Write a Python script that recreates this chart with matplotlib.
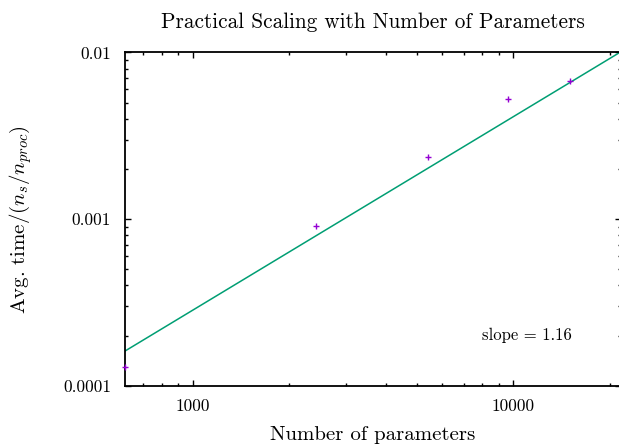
import matplotlib
matplotlib.use("Agg")
import matplotlib.pyplot as plt
import numpy as np
from matplotlib.ticker import LogLocator, FixedLocator, FixedFormatter, NullFormatter

plt.rcParams['font.family'] = 'serif'
plt.rcParams['font.serif'] = ['cmr10', 'DejaVu Serif']
plt.rcParams['mathtext.fontset'] = 'cm'
plt.rcParams['axes.unicode_minus'] = False

# measured points (number of parameters, avg time per sample)
n_params = [613, 2420, 5430, 9640, 15000]
avg_time = [1.30e-4, 9.1e-4, 2.35e-3, 5.25e-3, 6.7e-3]

# power law fit  t = a * n^b
fit_a = 9.43e-8
fit_b = 1.16

x_ticks = [1000, 10000]
x_tick_labels = ["1000", "10000"]
y_ticks = [1e-4, 1e-3, 1e-2]
y_tick_labels = ["0.0001", "0.001", "0.01"]

W, H = 619, 444
fig = plt.figure(figsize=(W / 100, H / 100), dpi=100)
left, right, top, bottom = 125, 621, 52.5, 385.7
ax = fig.add_axes([left / W, 1 - bottom / H, (right - left) / W, (bottom - top) / H])

ax.set_xscale('log')
ax.set_yscale('log')
xmin, xmax = 613, 21700
ax.set_xlim(xmin, xmax)
ax.set_ylim(1e-4, 1e-2)

xs = np.array([xmin, xmax])
ax.plot(xs, fit_a * xs ** fit_b, color='#009E73', lw=1.1, zorder=2)
ax.plot(n_params, avg_time, linestyle='none', marker='+', color='#9400D3',
        markersize=5, markeredgewidth=1.0, zorder=3, clip_on=False)

ax.xaxis.set_major_locator(FixedLocator(x_ticks))
ax.xaxis.set_major_formatter(FixedFormatter(x_tick_labels))
ax.yaxis.set_major_locator(FixedLocator(y_ticks))
ax.yaxis.set_major_formatter(FixedFormatter(y_tick_labels))
ax.xaxis.set_minor_locator(LogLocator(base=10, subs=np.arange(2, 10)))
ax.yaxis.set_minor_locator(LogLocator(base=10, subs=np.arange(2, 10)))
ax.xaxis.set_minor_formatter(NullFormatter())
ax.yaxis.set_minor_formatter(NullFormatter())

ax.tick_params(which='both', direction='in', top=True, right=True, width=1.0)
ax.tick_params(which='major', length=4.3, labelsize=12.5)
ax.tick_params(axis='x', which='major', pad=9)
ax.tick_params(axis='y', which='major', pad=10)
ax.tick_params(which='minor', length=2.2)
for s in ax.spines.values():
    s.set_linewidth(1.3)

ax.text(8000, 2.0e-4, "slope = 1.16", fontsize=12, va='center', ha='left')

ax.set_title("Practical Scaling with Number of Parameters", fontsize=15.3, pad=17.5)
ax.set_xlabel("Number of parameters", fontsize=15, labelpad=9)
ax.set_ylabel(r"Avg. time$/(n_s/n_{proc})$", fontsize=15, labelpad=21)

fig.savefig("out.png", dpi=100)
